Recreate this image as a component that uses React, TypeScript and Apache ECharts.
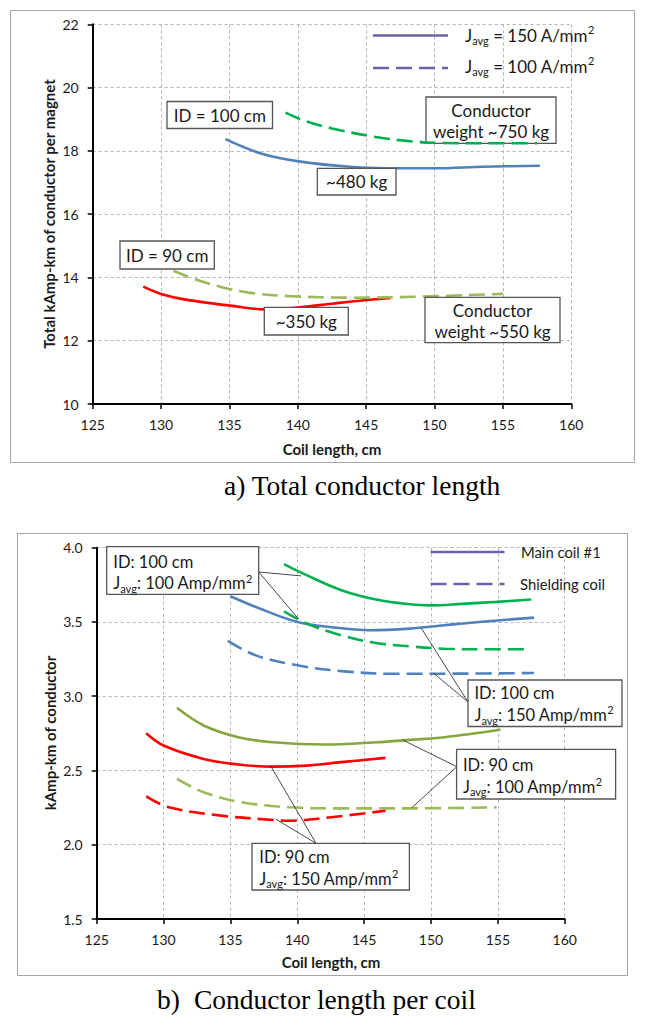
import React, { useEffect, useRef } from "react";
import * as echarts from "echarts";

// ---------- Data: (a) Total conductor length ----------
const topXTicks = [125, 130, 135, 140, 145, 150, 155, 160];
const topYTicks = [10, 12, 14, 16, 18, 20, 22];

const aID100J150X = [134.7, 137.3, 140.2, 143.8, 147.5, 150, 153.6, 157.7];
const aID100J150Y = [18.37, 17.92, 17.66, 17.5, 17.45, 17.45, 17.5, 17.53];
const aID100J100X = [139.1, 140.5, 142.5, 145.5, 148.5, 150.5, 153.5, 157.5];
const aID100J100Y = [19.21, 18.95, 18.71, 18.45, 18.29, 18.25, 18.24, 18.24];
const aID90J150X = [128.7, 130, 131.9, 135.2, 137.6, 140, 142.5, 144.9, 146.8];
const aID90J150Y = [13.71, 13.48, 13.29, 13.1, 12.99, 13.05, 13.17, 13.28, 13.35];
const aID90J100X = [130.9, 132.5, 134.3, 136.4, 139.4, 144, 148.5, 155];
const aID90J100Y = [14.21, 13.94, 13.71, 13.52, 13.41, 13.36, 13.39, 13.48];

// ---------- Data: (b) Conductor length per coil ----------
const botYTicks = [1.5, 2.0, 2.5, 3.0, 3.5, 4.0];

const bID100J100MainX = [139.0, 140.7, 143.3, 145.9, 148.4, 150, 152.3, 154.9, 157.5];
const bID100J100MainY = [3.89, 3.815, 3.714, 3.651, 3.619, 3.612, 3.622, 3.635, 3.651];
const bID100J150MainX = [135.0, 136.9, 140.0, 142.8, 145.4, 148.4, 151.0, 153.6, 157.7];
const bID100J150MainY = [3.673, 3.601, 3.5, 3.462, 3.444, 3.455, 3.478, 3.5, 3.529];
const bID100J100ShieldX = [139.0, 140.7, 143.3, 145.9, 148.4, 151.0, 154.0, 157.4];
const bID100J100ShieldY = [3.572, 3.489, 3.41, 3.358, 3.336, 3.32, 3.316, 3.316];
const bID100J150ShieldX = [134.8, 136.9, 140.0, 143.3, 147.2, 152.0, 157.7];
const bID100J150ShieldY = [3.372, 3.275, 3.208, 3.169, 3.151, 3.152, 3.156];
const bID90J100MainX = [131.0, 133.0, 135.6, 138.2, 142.0, 145.9, 148.4, 151.0, 155.2];
const bID90J100MainY = [2.922, 2.803, 2.724, 2.69, 2.675, 2.69, 2.706, 2.724, 2.774];
const bID90J150MainX = [128.7, 130.0, 133.0, 135.6, 138.2, 140.7, 143.3, 146.6];
const bID90J150MainY = [2.751, 2.668, 2.578, 2.54, 2.526, 2.533, 2.556, 2.585];
const bID90J100ShieldX = [131.0, 133.0, 135.6, 139.4, 143.3, 148.4, 154.9];
const bID90J100ShieldY = [2.443, 2.353, 2.29, 2.252, 2.245, 2.245, 2.252];
const bID90J150ShieldX = [128.7, 130.4, 134.3, 138.2, 139.4, 142.0, 146.6];
const bID90J150ShieldY = [2.326, 2.252, 2.196, 2.167, 2.162, 2.18, 2.229];

// leader-line targets (data points on the curves they annotate)
const leaderTargetsA = [[140.3, 3.81], [140.1, 3.52]];
const leaderTargetsB = [[149.3, 3.455], [150.2, 3.155]];
const leaderTargetsC = [[147.9, 2.705], [148.55, 2.248]];
const leaderTargetsD = [[138.0, 2.532], [138.4, 2.172]];

const FONT = "Lato";
const SERIF = "'Liberation Serif', 'Times New Roman', serif";
const BLUE = "#4f81bd";
const GREEN = "#00b050";
const RED = "#ff0000";
const OLIVE = "#86a640";
const OLIVE_L = "#9bbb59";
const PURPLE = "#7060a8";
const TEXT = "#1a1a1a";
const DASH = [16, 7];

const pairs = (xs: number[], ys: number[]) => xs.map((x, i) => [x, ys[i]]);

function line(name: string, grid: number, xs: number[], ys: number[], color: string, dashed: boolean, z = 2) {
  return {
    name,
    type: "line",
    xAxisIndex: grid,
    yAxisIndex: grid,
    data: pairs(xs, ys),
    showSymbol: false,
    symbol: "none",
    smooth: 0.35,
    z,
    silent: true,
    lineStyle: { color, width: 2.6, type: dashed ? DASH : "solid", cap: "butt" },
  };
}

function xAxisCfg(grid: number) {
  return {
    type: "value",
    gridIndex: grid,
    min: topXTicks[0],
    max: topXTicks[topXTicks.length - 1],
    interval: 5,
    axisLine: { show: true, onZero: false, lineStyle: { color: "#000", width: 2 } },
    axisTick: { show: true, length: 5, lineStyle: { color: "#000", width: 1.5 } },
    axisLabel: { margin: 13, fontSize: 14, color: TEXT, fontFamily: FONT },
    splitLine: { show: true, lineStyle: { color: "#b3b3b3", width: 1, type: [3, 3] } },
  };
}

function yAxisCfg(grid: number, min: number, max: number, interval: number, dec: number) {
  return {
    type: "value",
    gridIndex: grid,
    min,
    max,
    interval,
    axisLine: { show: true, onZero: false, lineStyle: { color: "#000", width: 2 } },
    axisTick: { show: true, length: 5, lineStyle: { color: "#000", width: 1.5 } },
    axisLabel: {
      margin: 14,
      fontSize: 14,
      color: TEXT,
      fontFamily: FONT,
      formatter: (v: number) => v.toFixed(dec),
    },
    splitLine: { show: true, lineStyle: { color: "#b3b3b3", width: 1, type: [3, 3] } },
  };
}

const richJ = (size: number, lh: number) => ({
  m: { fontSize: size, lineHeight: lh, fontFamily: FONT, fill: TEXT, color: TEXT, verticalAlign: "middle" },
  s: { fontSize: Math.round(size * 0.65), lineHeight: 12, fontFamily: FONT, color: TEXT, verticalAlign: "bottom" },
  p: { fontSize: Math.round(size * 0.65), lineHeight: 17, fontFamily: FONT, color: TEXT, verticalAlign: "top" },
});

function box(x: number, y: number, w: number, h: number) {
  return {
    type: "rect",
    z: 5,
    silent: true,
    shape: { x, y, width: w, height: h },
    style: { fill: "#fff", stroke: "#555", lineWidth: 1.3 },
  };
}

function txt(x: number, y: number, text: string, opts: any = {}) {
  return {
    type: "text",
    z: 6,
    silent: true,
    x,
    y,
    style: {
      text,
      fill: TEXT,
      fontFamily: FONT,
      fontSize: 17,
      align: "center",
      verticalAlign: "middle",
      ...opts,
    },
  };
}

function legendLine(x1: number, x2: number, y: number, dashed: boolean) {
  return {
    type: "line",
    z: 6,
    silent: true,
    shape: { x1, y1: y, x2, y2: y },
    style: { stroke: PURPLE, lineWidth: 2.5, lineDash: dashed ? DASH : null },
  };
}

function baseGraphics() {
  const g: any[] = [];
  // frames
  g.push({ type: "rect", z: 0, silent: true, shape: { x: 10.5, y: 10.5, width: 624, height: 452 }, style: { fill: "none", stroke: "#a6a6a6", lineWidth: 1 } });
  g.push({ type: "rect", z: 0, silent: true, shape: { x: 17.5, y: 533.5, width: 610, height: 442 }, style: { fill: "none", stroke: "#a6a6a6", lineWidth: 1 } });

  // axis titles
  g.push(txt(332, 449, "Coil length, cm", { fontWeight: "bold", fontSize: 15 }));
  g.push(txt(331, 962, "Coil length, cm", { fontWeight: "bold", fontSize: 15 }));
  g.push({ ...txt(49, 214, "Total kAmp-km of conductor per magnet", { fontWeight: "bold", fontSize: 15 }), rotation: Math.PI / 2 });
  g.push({ ...txt(50, 733, "kAmp-km of conductor", { fontWeight: "bold", fontSize: 15 }), rotation: Math.PI / 2 });

  // captions
  g.push(txt(224, 485, "a) Total conductor length", { fontFamily: SERIF, fontSize: 27.5, align: "left", fill: "#000" }));
  g.push(txt(157, 999, "b)", { fontFamily: SERIF, fontSize: 27.5, align: "left", fill: "#000" }));
  g.push(txt(194, 999, "Conductor length per coil", { fontFamily: SERIF, fontSize: 27.5, align: "left", fill: "#000" }));

  // top legend
  g.push(legendLine(373, 448, 35.5, false));
  g.push(legendLine(373, 448, 68, true));
  g.push(txt(465, 35, "{m|J}{s|avg}{m| = 150 A/mm}{p|2}", { align: "left", rich: richJ(17, 22) }));
  g.push(txt(465, 66, "{m|J}{s|avg}{m| = 100 A/mm}{p|2}", { align: "left", rich: richJ(17, 22) }));

  // top annotation boxes
  g.push(box(167, 101.5, 105.5, 27));
  g.push(txt(219.8, 115, "ID = 100 cm"));
  g.push(box(426, 97, 130, 46.3));
  g.push(txt(491, 121, "Conductor\nweight ~750 kg", { lineHeight: 21.7 }));
  g.push(box(317.3, 168.3, 78.7, 26.7));
  g.push(txt(356.7, 181.7, "~480 kg"));
  g.push(box(120, 241, 94.3, 28));
  g.push(txt(167.2, 255, "ID = 90 cm"));
  g.push(box(264.3, 307.3, 84, 27.7));
  g.push(txt(306.3, 321, "~350 kg"));
  g.push(box(425, 297.3, 135, 45.4));
  g.push(txt(492.5, 321, "Conductor\nweight ~550 kg", { lineHeight: 21.7 }));

  // bottom legend
  g.push(legendLine(430.5, 504.5, 552, false));
  g.push(legendLine(430.5, 504.5, 584, true));
  g.push(txt(521, 552, "Main coil #1", { align: "left", fontSize: 14.8 }));
  g.push(txt(520, 584, "Shielding coil", { align: "left", fontSize: 14.8 }));

  // bottom annotation boxes
  const two = (id: string, j: string) => `{m|${id}}\n{m|J}{s|avg}{m|: ${j} Amp/mm}{p|2}`;
  g.push(box(106.7, 546.7, 152, 47.6));
  g.push(txt(113.3, 572.5, two("ID: 100 cm", "100"), { align: "left", rich: richJ(16.5, 21.6) }));
  g.push(box(468, 680, 154, 46.5));
  g.push(txt(474.5, 704.2, two("ID: 100 cm", "150"), { align: "left", rich: richJ(16.5, 21.6) }));
  g.push(box(456.6, 749.3, 159, 49.7));
  g.push(txt(463, 775.8, two("ID: 90 cm", "100"), { align: "left", rich: richJ(16.5, 21.6) }));
  g.push(box(252, 843.3, 157.4, 46.7));
  g.push(txt(259.3, 867.8, two("ID: 90 cm", "150"), { align: "left", rich: richJ(16.5, 21.6) }));
  return g;
}

export default function App() {
  const ref = useRef<HTMLDivElement>(null);

  useEffect(() => {
    if (!ref.current) return;
    const chart = echarts.init(ref.current, undefined, { renderer: "svg" });

    const series = [
      line("ID100 J150", 0, aID100J150X, aID100J150Y, BLUE, false),
      line("ID100 J100", 0, aID100J100X, aID100J100Y, GREEN, true, 7),
      line("ID90 J150", 0, aID90J150X, aID90J150Y, RED, false),
      line("ID90 J100", 0, aID90J100X, aID90J100Y, OLIVE_L, true),

      line("ID100 J100 main", 1, bID100J100MainX, bID100J100MainY, GREEN, false),
      line("ID100 J150 main", 1, bID100J150MainX, bID100J150MainY, BLUE, false),
      line("ID100 J100 shield", 1, bID100J100ShieldX, bID100J100ShieldY, GREEN, true),
      line("ID100 J150 shield", 1, bID100J150ShieldX, bID100J150ShieldY, BLUE, true),
      line("ID90 J100 main", 1, bID90J100MainX, bID90J100MainY, OLIVE, false),
      line("ID90 J150 main", 1, bID90J150MainX, bID90J150MainY, RED, false),
      line("ID90 J100 shield", 1, bID90J100ShieldX, bID90J100ShieldY, OLIVE_L, true),
      line("ID90 J150 shield", 1, bID90J150ShieldX, bID90J150ShieldY, RED, true),
    ];

    const makeOption = (graphics: any[]) => ({
      animation: false,
      backgroundColor: "#fff",
      grid: [
        { left: 92.7, width: 478.6, top: 24.3, height: 379.7, containLabel: false },
        { left: 96.7, width: 468, top: 547.7, height: 371.3, containLabel: false },
      ],
      xAxis: [xAxisCfg(0), xAxisCfg(1)],
      yAxis: [
        yAxisCfg(0, topYTicks[0], topYTicks[topYTicks.length - 1], 2, 0),
        yAxisCfg(1, botYTicks[0], botYTicks[botYTicks.length - 1], 0.5, 1),
      ],
      series,
      graphic: { elements: graphics },
    });

    const base = baseGraphics();
    chart.setOption(makeOption(base));

    // leader lines from annotation boxes to curves
    const leaders: any[] = [];
    const addLeaders = (from: number[], targets: number[][]) => {
      targets.forEach((t) => {
        const p = chart.convertToPixel({ gridIndex: 1 } as any, t) as number[];
        leaders.push({
          type: "line",
          z: 4,
          silent: true,
          shape: { x1: from[0], y1: from[1], x2: p[0], y2: p[1] },
          style: { stroke: "#333", lineWidth: 0.9 },
        });
      });
    };
    addLeaders([258.7, 572], leaderTargetsA);
    addLeaders([468, 702], leaderTargetsB);
    addLeaders([456.8, 766.7], leaderTargetsC);
    addLeaders([316, 843.3], leaderTargetsD);
    chart.setOption(makeOption([...base, ...leaders]));

    return () => chart.dispose();
  }, []);

  return (
    <div
      ref={ref}
      style={{ position: "absolute", left: 0, top: 0, width: 645, height: 1023, background: "#fff" }}
    />
  );
}
